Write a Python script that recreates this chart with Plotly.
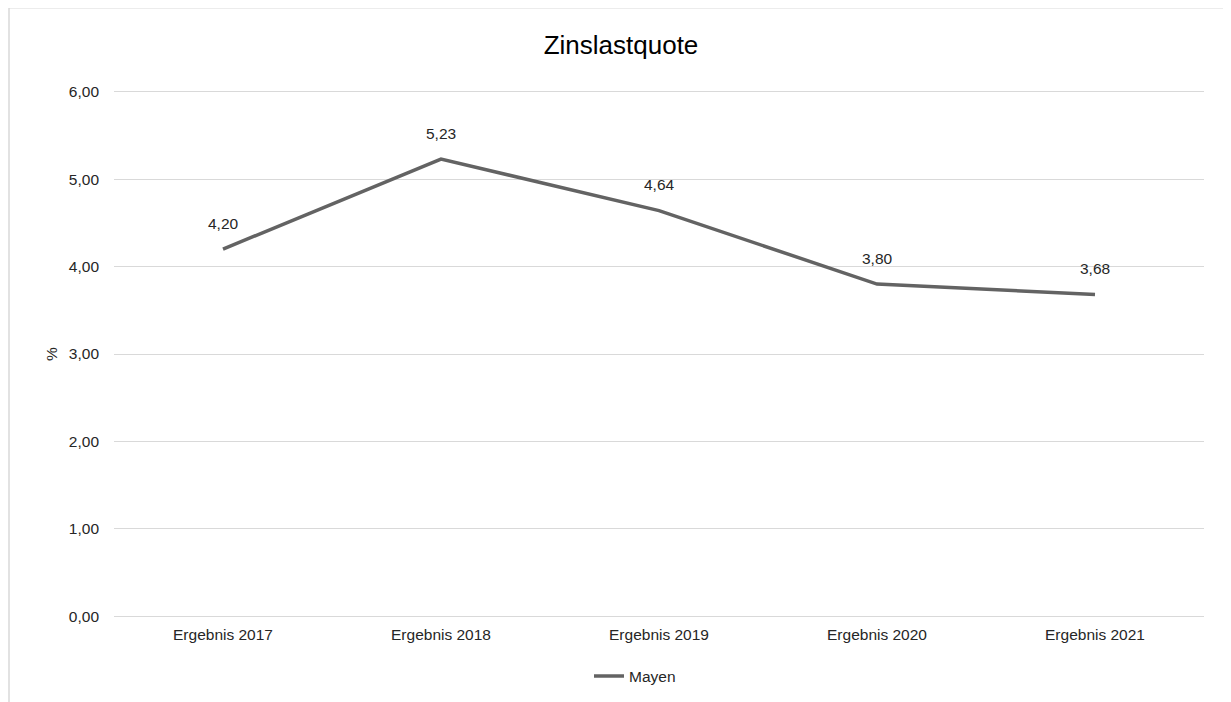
import plotly.graph_objects as go

categories = ["Ergebnis 2017", "Ergebnis 2018", "Ergebnis 2019", "Ergebnis 2020", "Ergebnis 2021"]
values = [4.20, 5.23, 4.64, 3.80, 3.68]
series_name = "Mayen"
y_ticks = [0, 1, 2, 3, 4, 5, 6]
title_text = "Zinslastquote"
y_title = "%"

FONT = "Liberation Sans, Arial, Helvetica, sans-serif"
TXT = "#262626"
OFF = 8  # browser body margin
W, H = 1231 - OFF, 702 - OFF
PAD = 0.02          # small range padding so edge gridlines are drawn
PX = 524 / 6        # pixels per unit
EXT = PAD * PX

fig = go.Figure()
fig.add_trace(go.Scatter(
    x=categories, y=values, mode="lines", name=series_name,
    line=dict(color="#636363", width=3.5),
))

annotations = []
for c, v in zip(categories, values):
    annotations.append(dict(
        x=c, y=v, xref="x", yref="y", text=f"{v:.2f}".replace(".", ","),
        showarrow=False, yshift=26, font=dict(family=FONT, size=15.5, color=TXT),
    ))

top_m = 92 - OFF - EXT
bot_m = 86 - EXT
ph = H - top_m - bot_m


def py(screen_y):
    # screen y -> paper y
    return (H - bot_m - (screen_y - OFF)) / ph


fig.update_layout(
    width=W, height=H,
    margin=dict(l=114 - OFF, r=27, t=top_m, b=bot_m, autoexpand=False),
    paper_bgcolor="white", plot_bgcolor="white",
    separators=",.",
    font=dict(family=FONT, size=15.5, color=TXT),
    title=dict(text=title_text, x=(621 - OFF) / W, xref="container", xanchor="center",
               y=1 - (45 - OFF) / H, yref="container", yanchor="middle",
               font=dict(family=FONT, size=26, color="#000000")),
    xaxis=dict(type="category", range=[-0.5, 4.5], showgrid=False, zeroline=False,
               showline=False, ticks="", ticklabelstandoff=5,
               tickfont=dict(family=FONT, size=15.5, color=TXT)),
    yaxis=dict(range=[-PAD, 6 + PAD], tickvals=y_ticks, tickformat=".2f", showgrid=True,
               gridcolor="#d9d9d9", gridwidth=1.3, zeroline=False, showline=False,
               ticks="", ticklabelstandoff=14,
               tickfont=dict(family=FONT, size=15.5, color=TXT),
               title=dict(text=y_title, standoff=7, font=dict(family=FONT, size=15.5, color=TXT))),
    showlegend=True,
    legend=dict(orientation="h", x=(589 - 114) / 1090, xanchor="left",
                y=py(676), yanchor="middle",
                font=dict(family=FONT, size=15.5, color=TXT), bgcolor="rgba(0,0,0,0)"),
    annotations=annotations,
    shapes=[dict(type="rect", xref="paper", yref="paper",
                 x0=(9 - 114) / 1090, x1=(1245 - 114) / 1090,
                 y0=py(720), y1=py(8),
                 line=dict(color="#d9d9d9", width=1.5), fillcolor="rgba(0,0,0,0)", layer="below")],
)

fig.write_html("out.html")
